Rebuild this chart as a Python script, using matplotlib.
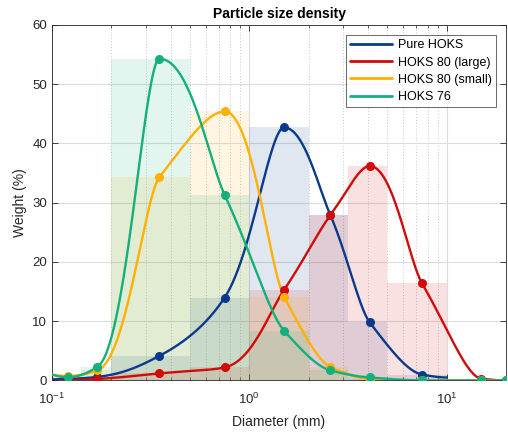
import numpy as np
import matplotlib
matplotlib.use("Agg")
import matplotlib.pyplot as plt
from matplotlib.ticker import LogLocator, NullFormatter

# ---------------- data ----------------
bin_edges = [0.1, 0.14, 0.2, 0.5, 1, 2, 3.15, 5, 10, 20]
diam = [0.12, 0.17, 0.35, 0.75, 1.5, 2.575, 4.075, 7.5, 15, 20]

pure_hoks = [0.25, 0.6, 4.15, 14.0, 42.7, 27.9, 9.8, 1.0]
pure_tail_x, pure_tail_y = 10, 0.5
hoks80_large = [0.0, 0.25, 1.2, 2.2, 15.3, 27.9, 36.2, 16.4, 0.3, 0.0]
hoks80_small = [0.75, 1.7, 34.3, 45.4, 14.1, 2.3, 0.25, 0.0, 0.0, 0.0]
hoks76 = [0.55, 2.3, 54.3, 31.3, 8.4, 1.7, 0.5, 0.0, 0.0, 0.0]

names = ["Pure HOKS", "HOKS 80 (large)", "HOKS 80 (small)", "HOKS 76"]
colors = ["#0b3a8c", "#d10a0a", "#ffb000", "#14b07c"]

title = "Particle size density"
xlabel = "Diameter (mm)"
ylabel = "Weight (%)"


def pchip(x, y, xq):
    x = np.asarray(x, float); y = np.asarray(y, float)
    h = np.diff(x); d = np.diff(y) / h
    n = len(x); m = np.zeros(n)
    for k in range(1, n - 1):
        if d[k - 1] * d[k] <= 0:
            m[k] = 0.0
        else:
            w1 = 2 * h[k] + h[k - 1]; w2 = h[k] + 2 * h[k - 1]
            m[k] = (w1 + w2) / (w1 / d[k - 1] + w2 / d[k])

    def endslope(h0, h1, d0, d1):
        s = ((2 * h0 + h1) * d0 - h0 * d1) / (h0 + h1)
        if np.sign(s) != np.sign(d0):
            s = 0.0
        elif np.sign(d0) != np.sign(d1) and abs(s) > abs(3 * d0):
            s = 3 * d0
        return s
    m[0] = endslope(h[0], h[1], d[0], d[1])
    m[-1] = endslope(h[-1], h[-2], d[-1], d[-2])
    idx = np.clip(np.searchsorted(x, xq) - 1, 0, n - 2)
    t = (xq - x[idx]) / h[idx]
    h00 = 2 * t**3 - 3 * t**2 + 1; h10 = t**3 - 2 * t**2 + t
    h01 = -2 * t**3 + 3 * t**2; h11 = t**3 - t**2
    return h00 * y[idx] + h10 * h[idx] * m[idx] + h01 * y[idx + 1] + h11 * h[idx] * m[idx + 1]


plt.rcParams['font.family'] = ['Liberation Sans', 'DejaVu Sans']
plt.rcParams['mathtext.fontset'] = 'custom'
plt.rcParams['mathtext.rm'] = 'Liberation Sans'
plt.rcParams['mathtext.it'] = 'Liberation Sans:italic'
plt.rcParams['mathtext.bf'] = 'Liberation Sans:bold'
plt.rcParams['mathtext.default'] = 'regular'

fig = plt.figure(figsize=(5.08, 4.32), dpi=100)
ax = fig.add_axes([0.1024, 0.1193, 0.8937, 0.8229])

series = [
    (pure_hoks, list(diam[:len(pure_hoks)]) + [pure_tail_x], list(pure_hoks) + [pure_tail_y]),
    (hoks80_large, diam, hoks80_large),
    (hoks80_small, diam, hoks80_small),
    (hoks76, diam, hoks76),
]

edges = np.array(bin_edges)
# bars
for (vals, cx, cy), c in zip(series, colors):
    nb = min(len(vals), len(edges) - 1)
    ax.bar(edges[:nb], vals[:nb], width=np.diff(edges)[:nb], align='edge',
           color=c, alpha=0.12, linewidth=0, zorder=1)

# curves + markers (shape-preserving interpolation in linear diameter)
for (vals, cx, cy), c, nm in zip(series, colors, names):
    xq = np.concatenate([np.linspace(0.1, cx[0], 20),
                         np.geomspace(cx[0], cx[-1], 600)])
    yq = pchip(cx, cy, xq)
    ax.plot(xq, yq, color=c, lw=1.7, zorder=3, label=nm, solid_capstyle='round')
    ax.plot(diam[:len(vals)], vals, 'o', color=c, ms=5.5, zorder=4)

ax.set_xscale('log')
ax.set_xlim(0.1, 20)
ax.set_ylim(0, 60)
ax.set_yticks(range(0, 61, 10))
ax.xaxis.set_major_locator(LogLocator(base=10, numticks=10))
ax.xaxis.set_minor_locator(LogLocator(base=10, subs=np.arange(2, 10), numticks=20))
ax.xaxis.set_minor_formatter(NullFormatter())

ax.grid(True, which='major', color='#dcdcdc', lw=0.8, zorder=0)
ax.grid(True, which='minor', axis='x', color='#c8c8c8', lw=0.7, ls=(0, (1, 2)), zorder=0)
ax.set_axisbelow(True)

ax.tick_params(which='both', direction='in', top=True, right=True, colors='#262626',
               labelsize=9.5, labelcolor='#262626')
ax.tick_params(which='major', length=4, width=0.6)
ax.tick_params(which='minor', length=2.5, width=0.5)
ax.tick_params(axis='x', which='major', pad=8)
for s in ax.spines.values():
    s.set_color('#262626'); s.set_linewidth(0.6)

ax.set_title(title, fontsize=10, fontweight='bold', pad=5)
ax.set_xlabel(xlabel, fontsize=10, color='#262626', labelpad=6)
ax.set_ylabel(ylabel, fontsize=10, color='#262626', labelpad=4)

leg = ax.legend(loc='upper right', fontsize=9, frameon=True, fancybox=False,
                edgecolor='#262626', handlelength=3.3, borderpad=0.35,
                labelspacing=0.42, borderaxespad=0.8, handletextpad=0.5)
leg.get_frame().set_linewidth(0.6)
for l in leg.get_lines():
    l.set_linewidth(2.0)

fig.savefig('out.png', dpi=100)
